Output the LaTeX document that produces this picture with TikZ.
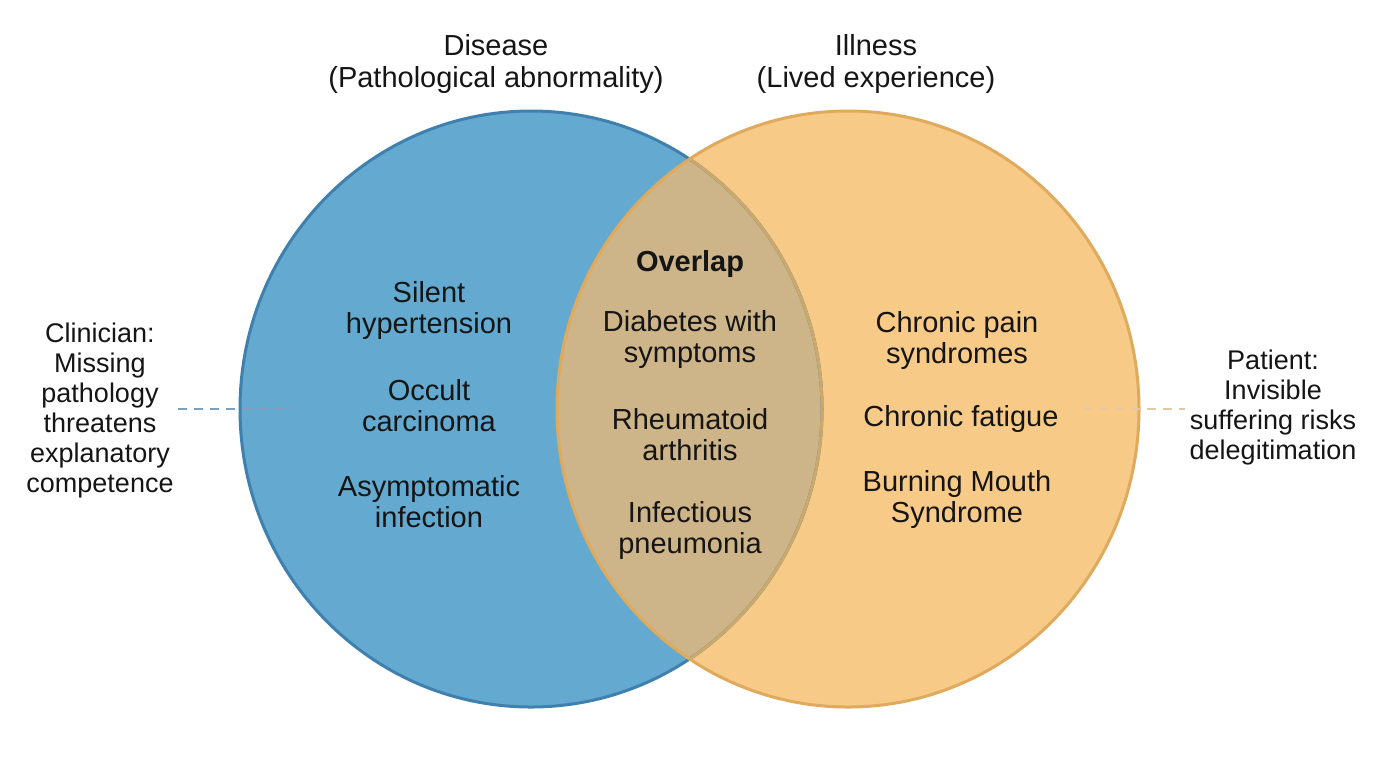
\documentclass[tikz,border=0pt]{standalone}
\usepackage{fontspec}
\setmainfont{Liberation Sans}
\usetikzlibrary{positioning}
\definecolor{DisBlue}{HTML}{64A9CF}
\definecolor{DisEdge}{HTML}{3F80AF}
\definecolor{IllOrange}{HTML}{F7CA88}
\definecolor{IllEdge}{HTML}{E0AA5C}
\definecolor{OverTan}{HTML}{CDB589}
\definecolor{OverEdge}{HTML}{CCA86A}
\definecolor{TextDark}{HTML}{151515}
\definecolor{LinkBlue}{HTML}{7F9FBA}
\definecolor{LinkTan}{HTML}{E3C8A2}

\begin{document}
\begin{tikzpicture}[
        x=0.5pt, y=-0.5pt,
        txt/.style={align=center, text=TextDark, inner sep=0pt,
          font=\fontsize{14.5}{15.5}\selectfont},
        ttl/.style={txt, font=\fontsize{14.5}{16}\selectfont},
        side/.style={txt, inner sep=2pt, font=\fontsize{13.5}{15}\selectfont},
        link/.style={dashed, dash pattern=on 4.5pt off 3.5pt, line width=1pt},
      ]
        \useasboundingbox (0,0) rectangle (1376,768);
        % --- circles ---
        \fill[DisBlue] (531,409) ellipse [x radius=291, y radius=298];
        \fill[IllOrange] (848,409) ellipse [x radius=291, y radius=298];
        \begin{scope}
          \clip (531,409) ellipse [x radius=291, y radius=298];
          \fill[OverTan] (848,409) ellipse [x radius=291, y radius=298];
        \end{scope}
        \draw[DisEdge, line width=1.5pt] (531,409) ellipse [x radius=291, y radius=298];
        \begin{scope}
          \clip (848,409) ellipse [x radius=291, y radius=298];
          \draw[OverEdge, line width=1.5pt] (531,409) ellipse [x radius=291, y radius=298];
        \end{scope}
        \draw[IllEdge, line width=1.5pt] (848,409) ellipse [x radius=291, y radius=298];
        % --- titles ---
        \node[ttl] (disease) at (496,64) {Disease\\(Pathological abnormality)};
        \node[ttl] (illness) at (876,64) {Illness\\(Lived experience)};
        % --- disease only ---
        \node[txt] (silent) at (429,310.5) {Silent\\hypertension};
        \node[txt] (occult) at (429,405.5) {Occult\\carcinoma};
        \node[txt] (asympt) at (429,501.5) {Asymptomatic\\infection};
        % --- overlap ---
        \node[txt, font=\fontsize{14.5}{15.5}\selectfont\bfseries] (overlap) at (690,264) {Overlap};
        \node[txt] (diabetes) at (690,339.5) {Diabetes with\\symptoms};
        \node[txt] (rheuma) at (690,434.5) {Rheumatoid\\arthritis};
        \node[txt] (pneumo) at (690,530.5) {Infectious\\pneumonia};
        % --- illness only ---
        \node[txt] (pain) at (957,340.5) {Chronic pain\\syndromes};
        \node[txt] (fatigue) at (961,419) {Chronic fatigue};
        \node[txt] (burning) at (957,499.5) {Burning Mouth\\Syndrome};
        % --- side notes ---
        \node[side] (clin) at (100,411) {Clinician:\\Missing\\pathology\\threatens\\explanatory\\competence};
        \node[side] (pat) at (1273,408) {Patient:\\Invisible\\suffering risks\\delegitimation};
        \coordinate (clinEnd) at (291,409);
        \coordinate (patEnd) at (1083,409);
        \draw[link, LinkBlue] (clin.east |- clinEnd) -- (clinEnd);
        \draw[link, LinkTan] (patEnd) -- (pat.west |- patEnd);
      \end{tikzpicture}
\end{document}
